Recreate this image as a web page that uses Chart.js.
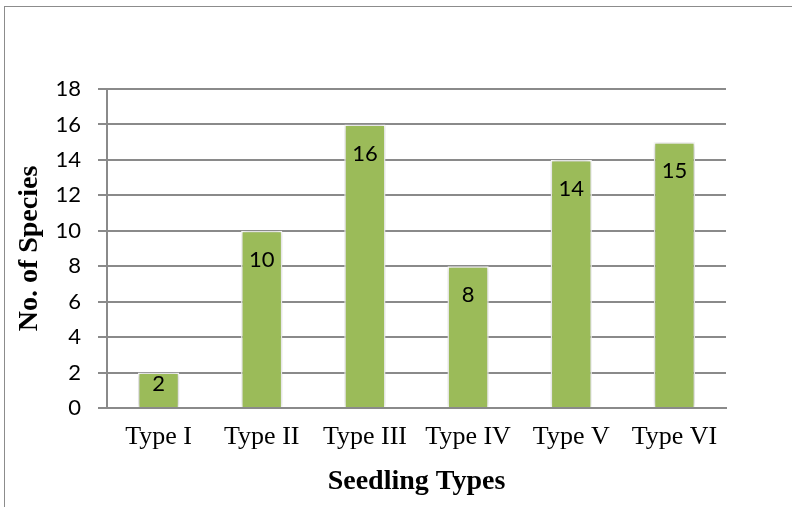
<!DOCTYPE html>
<html>
<head>
<meta charset="utf-8">
<script src="https://cdn.jsdelivr.net/npm/chart.js@4/dist/chart.umd.min.js"></script>
<style>
  html, body { margin: 0; padding: 0; background: #ffffff; width: 792px; height: 507px; overflow: hidden; }
  #frame { position: absolute; left: 4px; top: 6px; width: 820px; height: 540px; border: 1.5px solid #8c8c8c; box-sizing: border-box; }
  #wrap { position: absolute; left: 0; top: 0; width: 792px; height: 507px; }
</style>
</head>
<body>
<div id="frame"></div>
<div id="wrap"><canvas id="c" width="792" height="507"></canvas></div>
<script>
const categories = ["Type I", "Type II", "Type III", "Type IV", "Type V", "Type VI"];
const speciesCounts = [2, 10, 16, 8, 14, 15];
const yTickMin = 0;
const yTickMax = 18;
const yTickStep = 2;
const xAxisTitle = "Seedling Types";
const yAxisTitle = "No. of Species";

const GRID = '#8a8a8a';

const barShadow = {
  id: 'barShadow',
  beforeDatasetsDraw(chart) {
    const ctx = chart.ctx;
    ctx.save();
    ctx.shadowColor = 'rgba(0,0,0,0.28)';
    ctx.shadowBlur = 5;
    ctx.shadowOffsetX = 0;
    ctx.shadowOffsetY = 0;
  },
  afterDatasetsDraw(chart) {
    chart.ctx.restore();
  }
};

const valueLabels = {
  id: 'valueLabels',
  afterDraw(chart) {
    const ctx = chart.ctx;
    const meta = chart.getDatasetMeta(0);
    const base = chart.scales.y.getPixelForValue(0);
    ctx.save();
    ctx.fillStyle = '#000000';
    ctx.font = '22px Lato';
    ctx.textAlign = 'center';
    ctx.textBaseline = 'middle';
    meta.data.forEach((bar, i) => {
      const y = Math.min(bar.y + 29, base - 24.5);
      ctx.fillText(String(chart.data.datasets[0].data[i]), bar.x, y);
    });
    ctx.restore();
  }
};

new Chart(document.getElementById('c'), {
  type: 'bar',
  data: {
    labels: categories,
    datasets: [{
      data: speciesCounts,
      backgroundColor: '#9bbb59',
      borderColor: '#ffffff',
      borderWidth: 1.5,
      barPercentage: 0.4,
      categoryPercentage: 1.0
    }]
  },
  options: {
    responsive: false,
    animation: false,
    devicePixelRatio: 1,
    layout: { padding: { top: 89, right: 66, left: 0, bottom: 0 } },
    plugins: {
      legend: { display: false },
      tooltip: { enabled: false },
      title: { display: false }
    },
    scales: {
      x: {
        afterFit(scale) { scale.height = 99; },
        grid: { display: false, drawTicks: false },
        border: { display: true, color: GRID, width: 2 },
        ticks: {
          color: '#000000',
          font: { family: 'Liberation Serif', size: 26 },
          padding: 14,
          maxRotation: 0,
          autoSkip: false
        },
        title: {
          display: true,
          text: xAxisTitle,
          color: '#000000',
          font: { family: 'Liberation Serif', size: 28, weight: 'bold' },
          padding: { top: 0, bottom: 8 }
        }
      },
      y: {
        min: yTickMin,
        max: yTickMax,
        afterFit(scale) { scale.width = 107; },
        grid: { color: GRID, lineWidth: 2, tickLength: 9, drawTicks: true },
        border: { display: true, color: GRID, width: 2 },
        ticks: {
          stepSize: yTickStep,
          color: '#000000',
          font: { family: 'Lato', size: 22 },
          padding: 17
        },
        title: {
          display: true,
          text: yAxisTitle,
          color: '#000000',
          font: { family: 'Liberation Serif', size: 28, weight: 'bold' },
          padding: { top: 13, bottom: 0 }
        }
      }
    }
  },
  plugins: [barShadow, valueLabels]
});
</script>
</body>
</html>
